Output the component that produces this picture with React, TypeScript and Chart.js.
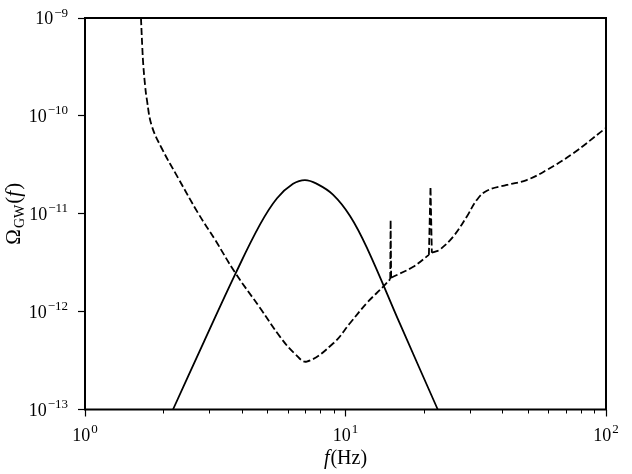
import React, { useEffect, useRef } from "react";
import { Chart, registerables } from "chart.js";

Chart.register(...registerables);

// Signal (solid curve)
const signalFreq = [2.177, 2.86, 3.77, 4.7, 5.46, 6.29, 6.99, 7.77, 8.95, 10.41, 12.09, 16.19, 22.6];
const signalOmega = [1e-13, 4.9e-13, 2.4e-12, 7.78e-12, 1.44e-11, 2.02e-11, 2.21e-11, 2.02e-11, 1.57e-11, 9.5e-12, 4.48e-12, 7.48e-13, 1e-13];

// Sensitivity (dashed curve)
const sensFreq = [1.64, 1.66, 1.674, 1.7, 1.725, 1.8, 1.97, 2.28, 2.72, 3.16, 3.77, 4.7, 5.61, 6.4, 7.1, 8.98, 10.4, 12.06, 13.96, 14.85, 14.9, 14.97, 18.2, 20.9, 21.2, 21.45, 22.4, 23.06, 25.9, 29.2, 31.9, 34.9, 41.6, 49.6, 59.2, 74.9, 97.7, 100];
const sensOmega = [1e-9, 4.9e-10, 3.31e-10, 2.07e-10, 1.51e-10, 8.07e-11, 4.67e-11, 2.31e-11, 1.01e-11, 5.4e-12, 2.5e-12, 1.09e-12, 5.52e-13, 3.7e-13, 3.09e-13, 4.75e-13, 7.6e-13, 1.22e-12, 1.8e-12, 2.15e-12, 8.64e-12, 2.22e-12, 2.88e-12, 3.8e-12, 1.89e-11, 4.0e-12, 4.15e-12, 4.3e-12, 5.83e-12, 9.33e-12, 1.38e-11, 1.72e-11, 1.97e-11, 2.21e-11, 2.8e-11, 4.15e-11, 7.18e-11, 7.5e-11];
// index ranges of the two narrow spikes in the sensitivity curve (drawn without smoothing)
const spikeRanges = [[19, 21], [23, 25]];

const xMajorTicks = [1, 10, 100];
const xMinorTicks = [2, 3, 4, 5, 6, 7, 8, 9, 20, 30, 40, 50, 60, 70, 80, 90];
const yMajorTicks = [1e-13, 1e-12, 1e-11, 1e-10, 1e-9];

const FONT = '"Liberation Serif", "DejaVu Serif", serif';

function drawPower(ctx: CanvasRenderingContext2D, exp: number, x: number, baseline: number, align: "center" | "right") {
  const base = "10";
  const sup = exp < 0 ? "\u2212" + String(-exp) : String(exp);
  ctx.font = `18px ${FONT}`;
  const wb = ctx.measureText(base).width;
  ctx.font = `13px ${FONT}`;
  const ws = ctx.measureText(sup).width;
  const total = wb + ws + 1;
  const start = align === "center" ? x - total / 2 : x - total;
  ctx.textAlign = "left";
  ctx.textBaseline = "alphabetic";
  ctx.font = `18px ${FONT}`;
  ctx.fillText(base, start, baseline);
  ctx.font = `13px ${FONT}`;
  ctx.fillText(sup, start + wb + 1, baseline - 7.5);
}

const decorPlugin = {
  id: "decor",
  afterDraw(chart: any) {
    const ctx: CanvasRenderingContext2D = chart.ctx;
    const { left, right, top, bottom } = chart.chartArea;
    const xs = chart.scales.x;
    const ys = chart.scales.y;
    ctx.save();
    ctx.fillStyle = "#000";
    ctx.strokeStyle = "#000";
    ctx.lineWidth = 1;
    for (const v of xMinorTicks) {
      const px = Math.round(xs.getPixelForValue(v)) + 0.5;
      ctx.beginPath();
      ctx.moveTo(px, bottom);
      ctx.lineTo(px, bottom + 4);
      ctx.stroke();
    }
    ctx.lineWidth = 2;
    ctx.strokeRect(left, top, right - left, bottom - top);
    for (const v of xMajorTicks) {
      drawPower(ctx, Math.round(Math.log10(v)), xs.getPixelForValue(v), bottom + 31, "center");
    }
    for (const v of yMajorTicks) {
      drawPower(ctx, Math.round(Math.log10(v)), left - 17, ys.getPixelForValue(v) + 6, "right");
    }
    // x title: f(Hz)
    ctx.textAlign = "left";
    ctx.textBaseline = "alphabetic";
    ctx.font = `italic 20px ${FONT}`;
    const wf = ctx.measureText("f").width;
    ctx.font = `20px ${FONT}`;
    const wr = ctx.measureText("(Hz)").width;
    const cx = (left + right) / 2;
    const sx = cx - (wf + wr + 1) / 2;
    const by = bottom + 54;
    ctx.font = `italic 20px ${FONT}`;
    ctx.fillText("f", sx, by);
    ctx.font = `20px ${FONT}`;
    ctx.fillText("(Hz)", sx + wf + 1, by);
    // y title: Ω_GW(f)
    ctx.translate(20, (top + bottom) / 2);
    ctx.rotate(-Math.PI / 2);
    ctx.font = `21px ${FONT}`;
    const wO = ctx.measureText("\u03A9").width;
    ctx.font = `14px ${FONT}`;
    const wG = ctx.measureText("GW").width;
    ctx.font = `21px ${FONT}`;
    const wP1 = ctx.measureText("(").width;
    ctx.font = `italic 21px ${FONT}`;
    const wF = ctx.measureText("f").width;
    ctx.font = `21px ${FONT}`;
    const wP2 = ctx.measureText(")").width;
    const tot = wO + wG + wP1 + wF + wP2 + 3;
    let p = -tot / 2;
    ctx.font = `21px ${FONT}`;
    ctx.fillText("\u03A9", p, 0);
    p += wO + 1;
    ctx.font = `14px ${FONT}`;
    ctx.fillText("GW", p, 4);
    p += wG + 1;
    ctx.font = `21px ${FONT}`;
    ctx.fillText("(", p, 0);
    p += wP1;
    ctx.font = `italic 21px ${FONT}`;
    ctx.fillText("f", p, 0);
    p += wF + 1;
    ctx.font = `21px ${FONT}`;
    ctx.fillText(")", p, 0);
    ctx.restore();
  },
};

function sensPieces() {
  // split the dashed curve so the smooth parts are splined and the spikes are straight
  const cuts: { from: number; to: number; tension: number }[] = [];
  let start = 0;
  for (const [a, b] of spikeRanges) {
    cuts.push({ from: start, to: a, tension: 0.4 });
    cuts.push({ from: a, to: b, tension: 0 });
    start = b;
  }
  cuts.push({ from: start, to: sensFreq.length - 1, tension: 0.4 });
  return cuts.map((c) => ({
    data: sensFreq.slice(c.from, c.to + 1).map((f, i) => ({ x: f, y: sensOmega[c.from + i] })),
    borderColor: "#000",
    borderWidth: 1.8,
    borderDash: [7, 3],
    pointRadius: 0,
    fill: false,
    tension: c.tension,
  }));
}

export default function App() {
  const ref = useRef<HTMLCanvasElement | null>(null);
  useEffect(() => {
    if (!ref.current) return;
    const chart = new Chart(ref.current, {
      type: "line",
      data: {
        datasets: [
          {
            data: signalFreq.map((f, i) => ({ x: f, y: signalOmega[i] })),
            borderColor: "#000",
            borderWidth: 1.8,
            pointRadius: 0,
            fill: false,
            tension: 0.4,
          },
          ...sensPieces(),
        ],
      },
      plugins: [decorPlugin],
      options: {
        animation: false,
        responsive: false,
        devicePixelRatio: 1,
        layout: { padding: { left: 0, right: 26, top: 18, bottom: 0 } },
        plugins: { legend: { display: false }, tooltip: { enabled: false } },
        scales: {
          x: {
            type: "logarithmic",
            min: 1,
            max: 100,
            afterBuildTicks: (s: any) => {
              s.ticks = xMajorTicks.map((v) => ({ value: v }));
            },
            afterFit: (s: any) => {
              s.height = 64.5;
            },
            ticks: { display: false },
            border: { display: false },
            grid: { drawOnChartArea: false, drawTicks: true, tickLength: 7, tickColor: "#000", tickWidth: 1.2 },
          },
          y: {
            type: "logarithmic",
            min: 1e-13,
            max: 1e-9,
            afterBuildTicks: (s: any) => {
              s.ticks = yMajorTicks.map((v) => ({ value: v }));
            },
            afterFit: (s: any) => {
              s.width = 85;
            },
            ticks: { display: false },
            border: { display: false },
            grid: { drawOnChartArea: false, drawTicks: true, tickLength: 7, tickColor: "#000", tickWidth: 1.2 },
          },
        },
      },
    } as any);
    return () => chart.destroy();
  }, []);
  return (
    <div style={{ position: "fixed", left: 0, top: 0, width: 632, height: 474, background: "#fff" }}>
      <canvas ref={ref} width={632} height={474} />
    </div>
  );
}
